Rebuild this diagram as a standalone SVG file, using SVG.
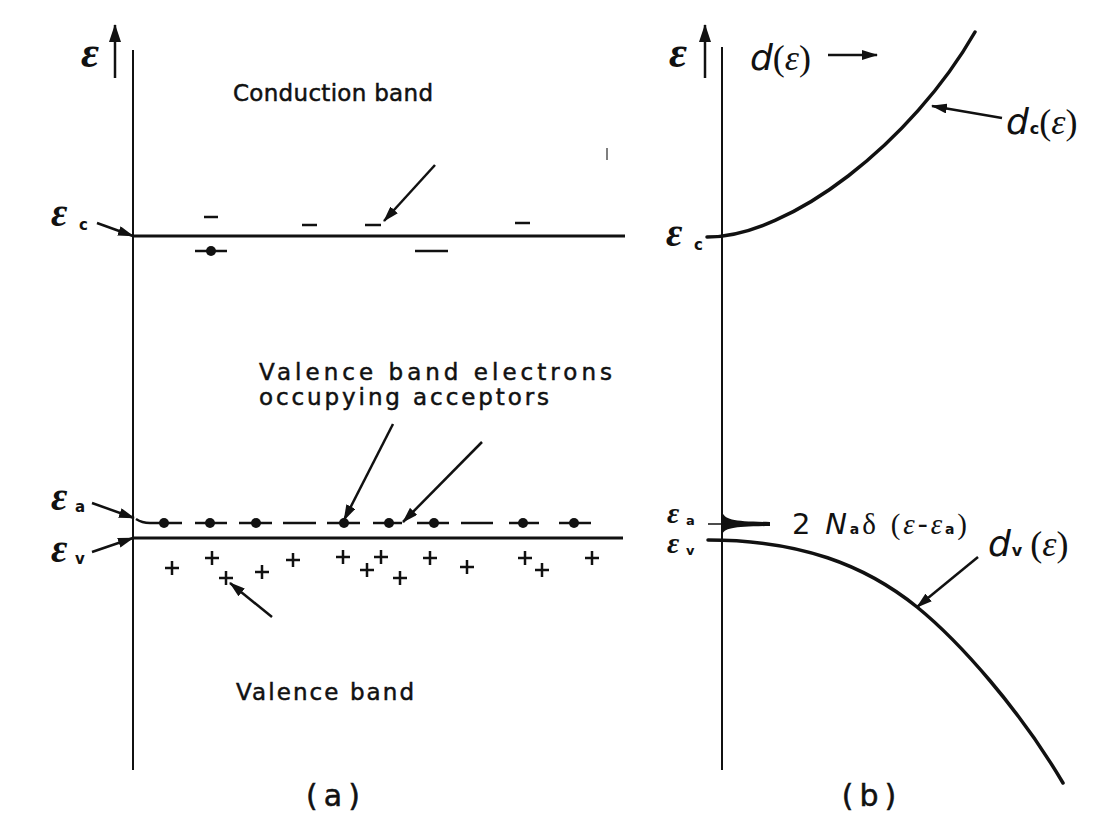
<svg xmlns="http://www.w3.org/2000/svg" width="1107" height="816" viewBox="0 0 1107 816">
<style>
.ax{stroke:#111;stroke-width:2;fill:none}
.band{stroke:#111;stroke-width:3;fill:none}
.curve{stroke:#111;stroke-width:3.5;fill:none;stroke-linecap:round}
.arr{stroke:#111;stroke-width:2.5;fill:none}
.dash{stroke:#111;stroke-width:2.5;fill:none}
.plus{stroke:#111;stroke-width:2.5;fill:none}
.lbl{font-family:"DejaVu Sans",sans-serif;font-size:23px;fill:#111;stroke:#111;stroke-width:0.5}
.cap{font-family:"DejaVu Sans",sans-serif;font-size:30px;fill:#111;stroke:#111;stroke-width:0.5;letter-spacing:6px}
.eps{font-family:"Liberation Serif",serif;font-style:italic;font-weight:bold;fill:#111}
.sub{font-family:"DejaVu Sans",sans-serif;font-weight:bold;fill:#111}
.dl{font-family:"DejaVu Sans",sans-serif;font-style:italic;fill:#111}
.se{font-family:"Liberation Serif",serif;font-style:italic;font-weight:normal}
.sp{font-family:"Liberation Serif",serif;font-style:normal;font-weight:normal}
.ss{font-family:"DejaVu Sans",sans-serif;font-style:normal;font-weight:bold}
</style>
<defs>
<marker id="ah" markerUnits="userSpaceOnUse" markerWidth="16" markerHeight="10" refX="15" refY="5" orient="auto">
<path d="M0,0 L16,5 L0,10 Z" fill="#111"/>
</marker>
<marker id="ahb" markerUnits="userSpaceOnUse" markerWidth="18" markerHeight="12" refX="17" refY="6" orient="auto">
<path d="M0,0 L18,6 L0,12 Z" fill="#111"/>
</marker>
</defs>
<rect width="1107" height="816" fill="#ffffff"/>

<g id="panel-a-axes">
<line class="ax" x1="133" y1="50" x2="133" y2="770"/>
<line class="band" x1="133" y1="236" x2="625" y2="236"/>
<line class="band" x1="133" y1="538" x2="623" y2="538"/>
<line x1="607" y1="148" x2="607" y2="160" stroke="#555" stroke-width="1.5"/>
</g>

<g id="panel-a-labels">
<text class="eps" x="81" y="67" font-size="44">ε</text>
<text class="eps" x="51" y="226" font-size="40">ε</text>
<text class="sub" x="79" y="230" font-size="15">c</text>
<text class="eps" x="51" y="510" font-size="40">ε</text>
<text class="sub" x="75" y="512" font-size="15">a</text>
<text class="eps" x="51" y="562" font-size="40">ε</text>
<text class="sub" x="75" y="564" font-size="15">v</text>
<text class="lbl" x="233" y="101" textLength="200" lengthAdjust="spacing">Conduction band</text>
<text class="lbl" x="259" y="380" textLength="353" lengthAdjust="spacing">Valence band  electrons</text>
<text class="lbl" x="259" y="405" textLength="290" lengthAdjust="spacing">occupying  acceptors</text>
<text class="lbl" x="236" y="700" textLength="178" lengthAdjust="spacing">Valence band</text>
<text class="cap" x="336" y="806" text-anchor="middle">(a)</text>
</g>

<g id="donor-levels">
<line class="dash" x1="204" y1="217" x2="218" y2="217"/>
<line class="dash" x1="302" y1="225" x2="317" y2="225"/>
<line class="dash" x1="365" y1="225" x2="381" y2="225"/>
<line class="dash" x1="515" y1="223" x2="530" y2="223"/>
<line class="dash" x1="195" y1="251" x2="227" y2="251"/>
<circle cx="211" cy="251" r="5" fill="#111"/>
<line class="dash" x1="415" y1="251" x2="448" y2="251"/>
</g>

<g id="acceptor-level">
<path class="dash" d="M136,519 Q142,523 150,523 L182,523"/>
<line class="dash" x1="195" y1="523" x2="227" y2="523"/>
<line class="dash" x1="239" y1="523" x2="272" y2="523"/>
<line class="dash" x1="283" y1="523" x2="316" y2="523"/>
<line class="dash" x1="327" y1="523" x2="360" y2="523"/>
<line class="dash" x1="373" y1="523" x2="402" y2="523"/>
<line class="dash" x1="417" y1="523" x2="449" y2="523"/>
<line class="dash" x1="461" y1="523" x2="493" y2="523"/>
<line class="dash" x1="509" y1="523" x2="539" y2="523"/>
<line class="dash" x1="559" y1="523" x2="591" y2="523"/>
<circle cx="164" cy="523" r="5" fill="#111"/>
<circle cx="210" cy="523" r="5" fill="#111"/>
<circle cx="256" cy="523" r="5" fill="#111"/>
<circle cx="344" cy="523" r="5" fill="#111"/>
<circle cx="389" cy="523" r="5" fill="#111"/>
<circle cx="434" cy="523" r="5" fill="#111"/>
<circle cx="523" cy="523" r="5" fill="#111"/>
<circle cx="574" cy="523" r="5" fill="#111"/>
</g>

<g id="holes">
<path class="plus" d="M165,568h14M172,561v14"/>
<path class="plus" d="M205,558h14M212,551v14"/>
<path class="plus" d="M219,578h14M226,571v14"/>
<path class="plus" d="M255,572h14M262,565v14"/>
<path class="plus" d="M286,560h14M293,553v14"/>
<path class="plus" d="M336,557h14M343,550v14"/>
<path class="plus" d="M360,570h14M367,563v14"/>
<path class="plus" d="M374,557h14M381,550v14"/>
<path class="plus" d="M393,578h14M400,571v14"/>
<path class="plus" d="M423,558h14M430,551v14"/>
<path class="plus" d="M460,567h14M467,560v14"/>
<path class="plus" d="M518,558h14M525,551v14"/>
<path class="plus" d="M535,570h14M542,563v14"/>
<path class="plus" d="M585,558h14M592,551v14"/>
</g>

<g id="panel-b-axes">
<line class="ax" x1="722" y1="47" x2="722" y2="770"/>
</g>

<g id="panel-b-curves">
<path class="curve" d="M707,237 C790,237 912,142 975,32"/>
<path class="curve" d="M708,540 C800,540 865,565 917,607 C960,642 1020,710 1063,783"/>
<path d="M722,511 C724,520 734,521.5 770,522 L770,526 C734,526.5 724,528 722,535 Z" fill="#111"/>
<line x1="708" y1="524" x2="728" y2="524" stroke="#111" stroke-width="1.5"/>
</g>

<g id="panel-b-labels">
<text class="eps" x="669" y="67" font-size="44">ε</text>
<text class="dl" x="750" y="70" font-size="36">d<tspan class="sp">(</tspan><tspan class="se">ε</tspan><tspan class="sp">)</tspan></text>
<text class="eps" x="666" y="246" font-size="40">ε</text>
<text class="sub" x="694" y="250" font-size="15">c</text>
<text class="eps" x="667" y="523" font-size="30">ε</text>
<text class="sub" x="686" y="525" font-size="13">a</text>
<text class="eps" x="667" y="553" font-size="30">ε</text>
<text class="sub" x="686" y="555" font-size="13">v</text>
<text class="dl" x="1006" y="134" font-size="36">d<tspan class="ss" font-size="16" dx="1">c</tspan><tspan class="sp">(</tspan><tspan class="se">ε</tspan><tspan class="sp">)</tspan></text>
<text class="dl" x="988" y="556" font-size="36">d<tspan class="ss" font-size="16" dx="1">v</tspan><tspan class="sp" dx="8">(</tspan><tspan class="se">ε</tspan><tspan class="sp">)</tspan></text>
<text x="792" y="534" font-size="29" fill="#111" font-family="DejaVu Sans,sans-serif" textLength="175" lengthAdjust="spacing">2 <tspan font-style="italic">N</tspan><tspan font-size="14" font-weight="bold">a</tspan><tspan class="sp">δ</tspan> <tspan class="sp">(</tspan><tspan class="se">ε</tspan>-<tspan class="se">ε</tspan><tspan font-size="14" font-weight="bold">a</tspan><tspan class="sp">)</tspan></text>
<text class="cap" x="872" y="806" text-anchor="middle">(b)</text>
</g>

<g id="connectors">
<line class="arr" x1="115" y1="78" x2="115" y2="25" marker-end="url(#ahb)"/>
<line class="arr" x1="705" y1="78" x2="705" y2="25" marker-end="url(#ahb)"/>
<line class="arr" x1="97" y1="223" x2="133" y2="236" marker-end="url(#ah)"/>
<line class="arr" x1="435" y1="165" x2="384" y2="221" marker-end="url(#ah)"/>
<line class="arr" x1="92" y1="503" x2="134" y2="518" marker-end="url(#ah)"/>
<line class="arr" x1="92" y1="552" x2="133" y2="538" marker-end="url(#ah)"/>
<line class="arr" x1="393" y1="424" x2="344" y2="520" marker-end="url(#ah)"/>
<line class="arr" x1="482" y1="442" x2="403" y2="522" marker-end="url(#ah)"/>
<line class="arr" x1="272" y1="617" x2="230" y2="583" marker-end="url(#ah)"/>
<line class="arr" x1="828" y1="55" x2="877" y2="55" marker-end="url(#ah)"/>
<line class="arr" x1="1002" y1="118" x2="932" y2="106" marker-end="url(#ah)"/>
<line class="arr" x1="978" y1="557" x2="917" y2="607" marker-end="url(#ah)"/>
</g>
</svg>
